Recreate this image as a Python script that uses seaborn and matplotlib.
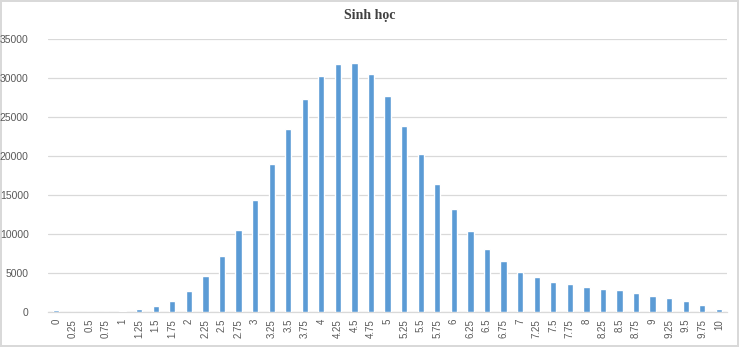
import matplotlib
matplotlib.use("Agg")
import matplotlib.pyplot as plt
import seaborn as sns
import pandas as pd

scores = ["0", "0.25", "0.5", "0.75", "1", "1.25", "1.5", "1.75", "2", "2.25",
          "2.5", "2.75", "3", "3.25", "3.5", "3.75", "4", "4.25", "4.5", "4.75",
          "5", "5.25", "5.5", "5.75", "6", "6.25", "6.5", "6.75", "7", "7.25",
          "7.5", "7.75", "8", "8.25", "8.5", "8.75", "9", "9.25", "9.5", "9.75", "10"]
counts = [250, 10, 5, 5, 150, 380, 770, 1450, 2730, 4560,
          7200, 10440, 14360, 18930, 23440, 27200, 30260, 31800, 31880, 30480,
          27700, 23870, 20200, 16370, 13130, 10320, 8010, 6480, 5110, 4480,
          3840, 3580, 3150, 2900, 2770, 2470, 2090, 1750, 1360, 850, 380]
yticks = [0, 5000, 10000, 15000, 20000, 25000, 30000, 35000]
title = "Sinh học"

sns.set_theme(style="white")
plt.rcParams['font.family'] = ['Liberation Sans', 'DejaVu Sans']

df = pd.DataFrame({"score": scores, "count": counts})

fig = plt.figure(figsize=(7.39, 3.47), dpi=100)
fig.patch.set_facecolor("white")
fig.patch.set_edgecolor("#D9D9D9")
fig.patch.set_linewidth(1.5)
ax = fig.add_axes([0.065, 0.1009, 0.919, 0.788])

sns.barplot(data=df, x="score", y="count", order=scores, color="#5B9BD5",
            saturation=1, width=0.38, ax=ax, zorder=3)

ax.set_ylim(0, 35000)
ax.set_xlim(-0.5, len(scores) - 0.5)
ax.set_yticks(yticks)
ax.set_yticklabels([str(t) for t in yticks], fontsize=7.5, color="#595959")
ax.set_xticks(range(len(scores)))
ax.set_xticklabels(scores, rotation=90, fontsize=7, color="#595959")
ax.tick_params(axis="both", length=0)
ax.tick_params(axis="x", pad=5)
ax.tick_params(axis="y", pad=14)
ax.yaxis.grid(True, color="#D9D9D9", linewidth=0.9, zorder=0)
ax.set_axisbelow(True)
for s in ["top", "right", "left"]:
    ax.spines[s].set_visible(False)
ax.spines["bottom"].set_color("#D9D9D9")
ax.spines["bottom"].set_linewidth(0.9)
ax.set_xlabel("")
ax.set_ylabel("")

fig.text(0.5, 0.955, title, ha="center", va="center", fontsize=10,
         fontweight="bold", family=["Liberation Serif", "DejaVu Serif"], color="#404040")

fig.savefig("out.png", dpi=100)
